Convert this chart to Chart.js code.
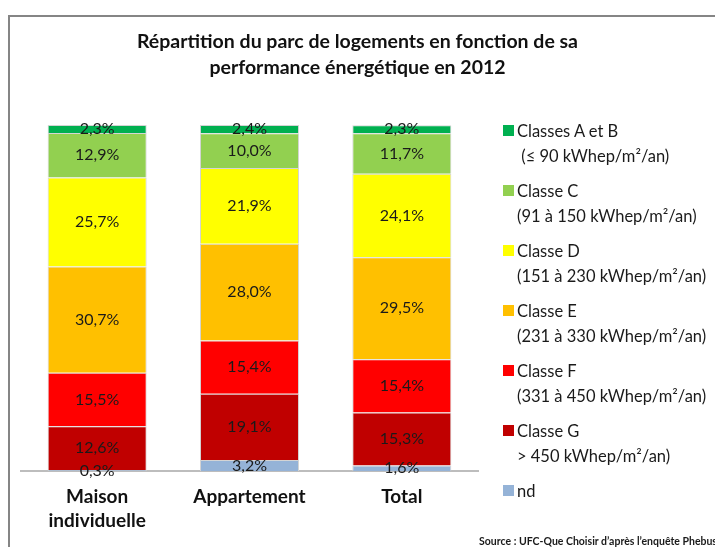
<!DOCTYPE html>
<html>
<head>
<meta charset="utf-8">
<script src="https://cdn.jsdelivr.net/npm/chart.js@4"></script>
<style>
  html, body { margin: 0; padding: 0; background: #fff; overflow: hidden; }
  #wrap { position: relative; width: 715px; height: 547px; }
  #frame { position: absolute; left: 8px; top: 15px; width: 760px; height: 600px;
           border: 2px solid #858585; box-sizing: border-box; }
  #chart { position: absolute; left: 0; top: 0; }
  #title { position: absolute; left: 0; width: 715px; top: 28px; text-align: center;
           font: bold 19.5px Lato, "Open Sans", sans-serif; line-height: 26px; color: #111; }
  #legend { position: absolute; left: 503px; top: 119px; font: 16.5px Lato, sans-serif; color: #1a1a1a; }
  .item { position: relative; height: 60px; }
  .sw { position: absolute; left: 0; top: 6px; width: 11px; height: 11px; }
  .txt { position: absolute; left: 14px; top: 0; line-height: 25px; white-space: nowrap; }
  #source { position: absolute; right: -2px; top: 535px; font: bold 10.5px Lato, sans-serif; color: #1a1a1a; white-space: nowrap; }
</style>
</head>
<body>
<div id="wrap">
  <div id="frame"></div>
  <canvas id="chart" width="715" height="547"></canvas>
  <div id="title">Répartition du parc de logements en fonction de sa<br>performance énergétique en 2012</div>
  <div id="legend"></div>
  <div id="source">Source : UFC-Que Choisir d’après l’enquête Phebus</div>
</div>
<script>
// categories (x axis)
const categories = [["Maison", "individuelle"], "Appartement", "Total"];

// share of housing per energy class, in %
const classAB = [2.3, 2.4, 2.3];
const classC = [12.9, 10.0, 11.7];
const classD = [25.7, 21.9, 24.1];
const classE = [30.7, 28.0, 29.5];
const classF = [15.5, 15.4, 15.4];
const classG = [12.6, 19.1, 15.3];
const classNd = [0.3, 3.2, 1.6];

// legend texts (top to bottom)
const legendNames = ["Classes A et B", "Classe C", "Classe D", "Classe E", "Classe F", "Classe G", "nd"];
const legendRanges = ["\u00a0(≤ 90 kWhep/m²/an)", "(91 à 150 kWhep/m²/an)", "(151 à 230 kWhep/m²/an)",
  "(231 à 330 kWhep/m²/an)", "(331 à 450 kWhep/m²/an)", "&gt; 450 kWhep/m²/an)", ""];
const legendColors = ["#00B050", "#92D050", "#FFFF00", "#FFC000", "#FF0000", "#C00000", "#95B3D7"];

// stacked bottom -> top
const stack = [classNd, classG, classF, classE, classD, classC, classAB];
const stackColors = legendColors.slice().reverse();
const stackNames = legendNames.slice().reverse();

const fmt = v => v.toFixed(1).replace(".", ",") + "%";

// labels centered in each segment
const segLabels = {
  id: "segLabels",
  afterDatasetsDraw(chart) {
    const ctx = chart.ctx;
    ctx.save();
    ctx.font = "16px Lato, sans-serif";
    ctx.fillStyle = "#1a1a1a";
    ctx.textAlign = "center";
    ctx.textBaseline = "middle";
    chart.data.datasets.forEach((ds, i) => {
      chart.getDatasetMeta(i).data.forEach((el, j) => {
        ctx.fillText(fmt(ds.data[j]), el.x, (el.y + el.base) / 2);
      });
    });
    ctx.restore();
  }
};

const ctx = document.getElementById("chart").getContext("2d");
const chart = new Chart(ctx, {
  type: "bar",
  data: {
    labels: categories,
    datasets: stack.map((d, i) => ({
      label: stackNames[i],
      data: d,
      backgroundColor: stackColors[i],
      borderColor: "#d4d4d4",
      borderWidth: 1,
      categoryPercentage: 1,
      barPercentage: 0.65
    }))
  },
  options: {
    responsive: false,
    animation: false,
    layout: { padding: { left: 21, right: 237, top: 125, bottom: 6 } },
    plugins: { legend: { display: false }, title: { display: false }, tooltip: { enabled: false } },
    scales: {
      x: {
        stacked: true,
        grid: { display: false, drawTicks: false },
        border: { display: true, color: "#bdbdbd", width: 2 },
        ticks: { color: "#111", padding: 14, font: { family: "Lato", size: 19, weight: "bold", lineHeight: 1.27 } },
        afterFit: s => { s.height = 70; }
      },
      y: { stacked: true, display: false, min: 0, max: 100 }
    }
  },
  plugins: [segLabels]
});

// legend
const leg = document.getElementById("legend");
legendNames.forEach((n, i) => {
  const it = document.createElement("div");
  it.className = "item";
  it.innerHTML = '<div class="sw" style="background:' + legendColors[i] + '"></div>' +
    '<div class="txt">' + n + (legendRanges[i] ? "<br>" + legendRanges[i] : "") + "</div>";
  leg.appendChild(it);
});
</script>
</body>
</html>
